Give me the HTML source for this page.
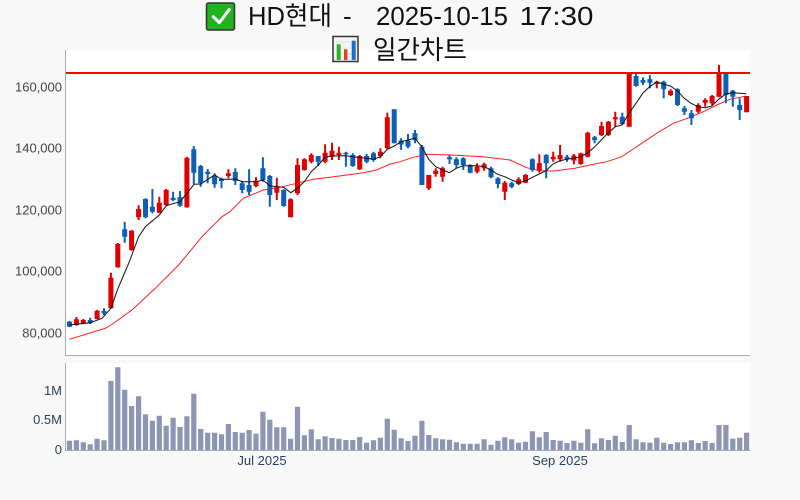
<!DOCTYPE html>
<html>
<head>
<meta charset="utf-8">
<style>
html,body{margin:0;padding:0;background:#f8f8f8;}
svg{display:block;}
</style>
</head>
<body>
<svg width="800" height="500" viewBox="0 0 800 500" xmlns="http://www.w3.org/2000/svg">
<rect x="0" y="0" width="800" height="500" fill="#f8f8f8"/>
<!-- plot areas -->
<rect x="66" y="50" width="684" height="305" fill="#ffffff"/>
<rect x="66" y="363" width="684" height="87" fill="#ffffff"/>

<!-- title -->
<g font-family="'Liberation Sans','Noto Sans CJK KR',sans-serif" font-size="26" fill="#111">
  <rect x="206.5" y="3" width="28" height="27" rx="2" fill="#1fb31f" stroke="#333" stroke-width="1.5"/>
  <path d="M213.3 16.7 L219.3 22.7 L229.3 9.5" fill="none" stroke="#fff" stroke-width="3" stroke-linecap="round" stroke-linejoin="round"/>
  <text x="248" y="25" textLength="84" lengthAdjust="spacingAndGlyphs">HD현대</text>
  <text x="343" y="25">-</text>
  <text x="376" y="25" textLength="132" lengthAdjust="spacingAndGlyphs">2025-10-15</text>
  <text x="519.5" y="25" textLength="74" lengthAdjust="spacingAndGlyphs">17:30</text>
  <rect x="333" y="36.5" width="25" height="25" fill="#f4f4f4" stroke="#333" stroke-width="1.5"/>
  <path d="M335 42H356M335 48H356M335 54H356" stroke="#dcdcdc" stroke-width="0.8"/>
  <rect x="336.7" y="44.3" width="4" height="15.7" fill="#2bb52b"/>
  <rect x="344" y="49.3" width="3.4" height="10.7" fill="#e8401c"/>
  <rect x="351.7" y="40.7" width="4" height="19.3" fill="#1a6fd0"/>
  <text x="373" y="59" textLength="94" lengthAdjust="spacingAndGlyphs">일간차트</text>
</g>

<!-- axis lines -->
<g stroke="#aaaaaa" stroke-width="1" fill="none">
  <path d="M65.5 50V355.5H750"/>
  <path d="M65.5 363V450.5H750"/>
</g>

<!-- price tick labels -->
<g font-family="'Liberation Sans',sans-serif" font-size="13" fill="#444" text-anchor="end">
  <text x="62" y="91.5">160,000</text>
  <text x="62" y="152.5">140,000</text>
  <text x="62" y="214.5">120,000</text>
  <text x="62" y="275.5">100,000</text>
  <text x="62" y="337.5">80,000</text>
</g>
<!-- volume tick labels -->
<g font-family="'Liberation Sans',sans-serif" font-size="13" fill="#2a3f5f" text-anchor="end">
  <text x="62" y="395">1M</text>
  <text x="62" y="424">0.5M</text>
  <text x="62" y="454">0</text>
</g>
<!-- x labels -->
<g font-family="'Liberation Sans',sans-serif" font-size="13" fill="#2a3f5f" text-anchor="middle">
  <text x="262" y="465">Jul 2025</text>
  <text x="560" y="465">Sep 2025</text>
</g>

<!-- red resistance line -->
<path d="M66 73H750" stroke="#ff0000" stroke-width="2"/>

<!-- MA lines -->
<polyline fill="none" stroke="#ff2020" stroke-width="1" points="69.3,339.3 90,333 105.3,328.3 111,325 132,310 155.3,288.3 178.7,265 202,236.7 222,216.7 230,211.7 243.3,198.3 263.3,190 280,187.3 296.7,183.3 313.3,179.3 330,177.3 346.7,175 363.3,172.7 376.7,170 390,164 400,161.7 413.3,157.3 426.7,154.3 450,155 483.3,156.7 510,160 526.7,167.7 540,170.7 553.3,171 575,168.3 590,165 606.7,161.7 621.7,156.7 636.7,146.7 656.7,133.3 673.3,123.3 690,117.3 703.3,111.7 716.7,105 730,99.3 746.3,96"/>

<!-- candles: wicks -->
<path fill="none" stroke="#e00000" stroke-width="2" d="M76.4 317V325.7 M83.3 319V324 M97.1 310V319.3 M110.9 272.7V308.3 M117.8 243V267.7 M131.6 230V250.7 M138.6 205.3V220 M159.3 196.7V213.3 M166.2 189V205.7 M186.9 156.7V207.7 M228.4 169.3V178.3 M256 177.3V187.3 M276.8 177.7V200 M290.6 198.3V217.3 M297.5 158.3V195 M304.4 158.3V170.7 M311.3 153.3V163.3 M325.1 144.3V163.3 M332 142.7V160 M338.9 146.7V160 M359.7 155V170 M380.4 148.3V158.3 M387.3 112.7V149.3 M428.8 175V190 M435.7 168.3V176.7 M442.6 166.7V181.7 M477.1 163.3V173.3 M484.1 162.7V170.7 M504.8 181V200 M518.6 177.3V185 M525.5 174V183.3 M539.3 154.3V172.7 M553.2 151.7V161.7 M560.1 145V161.7 M573.9 154V164.3 M580.8 152.7V164.7 M587.7 131.7V157.3 M601.5 121.7V136 M608.4 121V136 M615.3 111.7V126.7 M629.2 73.3V126.7 M656.8 80.7V88.3 M670.6 89.3V96 M698.3 103.3V113.3 M705.2 98.3V106.7 M712.1 95V105 M719 65V97.3 M746.6 96V112.3"/>
<path fill="none" stroke="#e00000" stroke-width="5" d="M76.4 319.3V325 M83.3 320V323.3 M97.1 310.7V319 M110.9 277.7V308.3 M117.8 244V267.3 M131.6 230.7V250 M138.6 209V217.3 M159.3 202.7V212.7 M166.2 190V205 M186.9 157.7V207.3 M228.4 173.3V176 M256 180.7V186 M276.8 187.3V192.7 M290.6 199.3V217.3 M297.5 165V193.3 M304.4 159.3V170 M311.3 155V161.7 M325.1 152.7V161.7 M332 150.7V156.7 M338.9 152.7V155 M359.7 156V169.3 M380.4 151.7V156 M387.3 117.3V148.3 M428.8 175V188.3 M435.7 170.7V174 M442.6 168.3V176.7 M477.1 166.7V171.7 M484.1 164.3V168.3 M504.8 182.7V191.7 M518.6 179.3V184 M525.5 175V182.7 M539.3 163.3V170.7 M553.2 156.7V159.3 M560.1 155V159.3 M573.9 155.5V160.5 M580.8 153.3V164 M587.7 132.7V156.7 M601.5 126V135 M608.4 121.7V135 M615.3 117.3V119.3 M629.2 74V126.7 M656.8 81.7V84 M670.6 90.7V95 M698.3 105V111.7 M705.2 100V102.7 M712.1 96V103.3 M719 73.3V96.7 M746.6 96V112.3"/>
<path fill="none" stroke="#0d5fb8" stroke-width="2" d="M69.5 321V327 M90.2 317.7V324 M104 308.3V315 M124.7 221.7V242.7 M145.5 198.3V218.3 M152.4 189V213.3 M173.1 191.7V201 M180 191V206.7 M193.8 146V184 M200.7 165V186.7 M207.7 169V183.3 M214.6 173.3V187.7 M221.5 177.7V188.3 M235.3 168.3V185 M242.2 180.7V193.3 M249.1 169.3V195 M262.9 157.3V181.7 M269.8 175V206.7 M283.7 189.3V206.7 M318.2 156V166 M345.9 151.7V166.7 M352.8 153.3V166.7 M366.6 154V163.3 M373.5 151.7V161.7 M394.2 109.3V143.3 M401.1 138.3V150 M408 134V148.3 M415 130V143.3 M421.9 145V185 M449.5 155V164 M456.4 157.3V168.3 M463.3 157.3V170 M470.2 164.3V173.3 M491 166.7V178.3 M497.9 177.3V188.3 M511.7 181.7V188.3 M532.4 158.3V171.7 M546.2 154.3V178.3 M567 155V161.7 M594.6 136V143.3 M622.3 112.7V125 M636.1 74V86.7 M643 77.3V85 M649.9 75V88.3 M663.7 80.7V98.3 M677.5 88.3V106 M684.4 106V115 M691.4 110V125 M725.9 73.3V103.3 M732.8 90V106.7 M739.7 98.3V120"/>
<path fill="none" stroke="#0d5fb8" stroke-width="5" d="M69.5 321.7V326.7 M90.2 320V322.7 M104 311V313.3 M124.7 229.3V236.7 M145.5 199V217.3 M152.4 206.7V211.7 M173.1 197.7V200 M180 197.3V205.7 M193.8 149.3V172.7 M200.7 166V183.3 M207.7 171.7V174 M214.6 175.7V184.3 M221.5 179V181 M235.3 172V181 M242.2 183.3V190 M249.1 185V191.7 M262.9 168.3V180 M269.8 176V195 M283.7 190V206 M318.2 156V161.7 M345.9 152.7V154.3 M352.8 155V166 M366.6 156V161.7 M373.5 153.3V160 M394.2 109.3V143.3 M401.1 140.5V144.5 M408 140.7V146.7 M415 133.3V140 M421.9 146.7V185 M449.5 157.3V159.3 M456.4 159.3V165 M463.3 158.3V165 M470.2 165V172.7 M491 168.3V177.3 M497.9 178.3V184 M511.7 183.3V186.7 M532.4 159.3V170 M546.2 155V163.3 M567 156.7V159.3 M594.6 137.3V140 M622.3 116.7V124 M636.1 76V86 M643 80V82.7 M649.9 79.3V82.7 M663.7 81.7V89.3 M677.5 89.3V105 M684.4 108.3V111.7 M691.4 113.3V118.3 M725.9 74V95 M732.8 90.7V96.7 M739.7 105V110"/>

<polyline fill="none" stroke="#111" stroke-width="1" points="69.3,325 90.3,322.7 102,318.3 111,308.3 118,288.3 128.7,263.3 138.7,236.7 145.3,226.7 159.3,215 166.3,205.7 180,201.7 187,193.3 194,184.3 200.7,184 207.7,179.3 214.7,175 221.3,179.3 228.3,179.3 235.3,179 242.3,181.7 256,181.7 263,180 270,186 283.7,187.3 290.7,192.7 297.3,188.3 304.3,181.7 311.3,171.7 318.3,165 325,157.3 332,156 345.7,155.7 352.7,156.7 366.7,158.3 373.3,159.3 380.3,156.7 387.3,149.3 394.3,146 401,141.7 408,140 415,138.3 421.7,146.7 428.7,159.3 435.7,166.7 449.3,172.7 456.3,168.3 463.3,165.7 477,165.7 484,166.7 491,170 497.7,174.3 504.7,176.7 511.7,180 518.7,182.7 525.3,181 532.3,177.3 539.3,174 546,170.7 553,164 560,160.7 566.7,159.3 573.7,158.3 580.7,156.7 587.7,152.7 594.3,147.3 601.3,140 608.3,132.7 615.3,126.7 622,125 629,113.3 636,103.3 642.7,93.3 649.7,86.7 656.7,82 663.3,84 670.3,86 677.3,90.7 684.3,98.3 691,103.3 698,106.7 705,107.7 711.7,106 718.7,99.3 725.7,94 732.7,92.7 739.7,93.3 746.3,93.7"/>

<!-- volume bars -->
<path fill="none" stroke="#8c95b3" stroke-width="5.2" d="M69.5 440.7V450 M76.4 440.3V450 M83.3 442.3V450 M90.2 444.3V450 M97.1 438.7V450 M104 440.3V450 M110.9 381V450 M117.8 367.3V450 M124.7 389.7V450 M131.6 406V450 M138.6 396.3V450 M145.5 414.3V450 M152.4 420.7V450 M159.3 415.7V450 M166.2 425.7V450 M173.1 417.7V450 M180 427V450 M186.9 416.3V450 M193.8 393.7V450 M200.7 429V450 M207.7 432.7V450 M214.6 432.7V450 M221.5 434.3V450 M228.4 424V450 M235.3 432V450 M242.2 432.7V450 M249.1 430V450 M256 433.7V450 M262.9 411.7V450 M269.8 419.7V450 M276.8 427.3V450 M283.7 427.3V450 M290.6 438.7V450 M297.5 406.7V450 M304.4 435.3V450 M311.3 429.3V450 M318.2 439.3V450 M325.1 436.3V450 M332 438V450 M338.9 438.7V450 M345.9 440V450 M352.8 440V450 M359.7 437V450 M366.6 442.7V450 M373.5 440.3V450 M380.4 437.7V450 M387.3 418.7V450 M394.2 429.7V450 M401.1 438.3V450 M408 441V450 M415 435.7V450 M421.9 420.7V450 M428.8 435V450 M435.7 438.3V450 M442.6 439.3V450 M449.5 439.7V450 M456.4 442.3V450 M463.3 443.7V450 M470.2 443.7V450 M477.1 443.7V450 M484.1 439.3V450 M491 444.7V450 M497.9 440.7V450 M504.8 437.3V450 M511.7 439.3V450 M518.6 442.7V450 M525.5 441.7V450 M532.4 431.3V450 M539.3 437.3V450 M546.2 432V450 M553.2 440V450 M560.1 440.7V450 M567 443V450 M573.9 440.7V450 M580.8 442.7V450 M587.7 429.3V450 M594.6 443.3V450 M601.5 438.3V450 M608.4 440V450 M615.3 435.7V450 M622.3 442V450 M629.2 425V450 M636.1 439.3V450 M643 442.3V450 M649.9 442.7V450 M656.8 437.7V450 M663.7 442.7V450 M670.6 444V450 M677.5 442.3V450 M684.4 442.3V450 M691.4 440.3V450 M698.3 443V450 M705.2 441V450 M712.1 443V450 M719 425V450 M725.9 425V450 M732.8 438.7V450 M739.7 437.7V450 M746.6 432.7V450"/>
</svg>
</body>
</html>
